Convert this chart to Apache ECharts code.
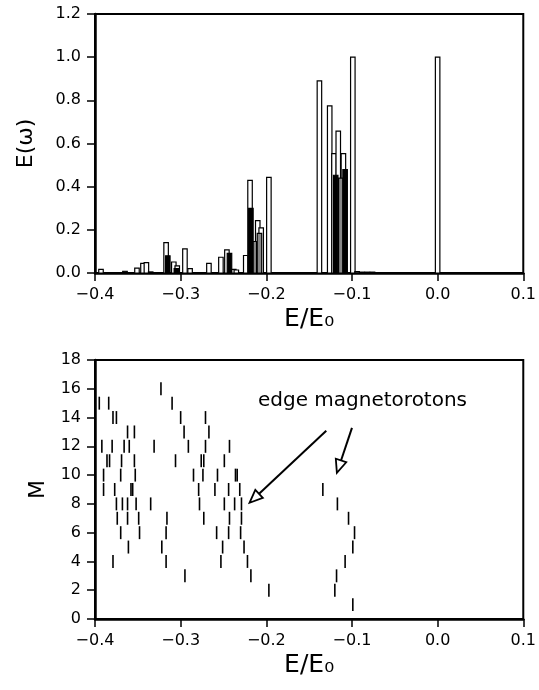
<!DOCTYPE html>
<html>
<head>
<meta charset="utf-8">
<script src="https://cdn.jsdelivr.net/npm/echarts@6/dist/echarts.min.js"></script>
<style>
  html, body { margin: 0; padding: 0; background: #fff; }
  #chart { width: 539px; height: 690px; }
</style>
</head>
<body>
<div id="chart"></div>
<script>
// top panel: spectral weight E(w) per mode (open, black and gray bars)
const openE = [-0.393, -0.351, -0.344, -0.340, -0.317, -0.308, -0.304, -0.295, -0.289, -0.267,
  -0.253, -0.246, -0.238, -0.235, -0.224, -0.219, -0.210, -0.206, -0.197,
  -0.138, -0.126, -0.121, -0.116, -0.110, -0.099, 0.000];
const openV = [0.017, 0.023, 0.045, 0.048, 0.141, 0.051, 0.033, 0.112, 0.020, 0.045,
  0.073, 0.107, 0.017, 0.014, 0.081, 0.429, 0.243, 0.209, 0.443,
  0.890, 0.774, 0.553, 0.657, 0.553, 1.000, 1.000];
const blackE = [-0.365, -0.315, -0.305, -0.243, -0.218, -0.119, -0.108];
const blackV = [0.008, 0.080, 0.020, 0.091, 0.299, 0.453, 0.479];
const grayE = [-0.335, -0.214, -0.208, -0.113, -0.094, -0.088, -0.082, -0.076];
const grayV = [0.005, 0.146, 0.184, 0.440, 0.006, 0.004, 0.004, 0.004];

// bottom panel: mode energy vs angular momentum M
const tickE = [
  -0.323,
  -0.395, -0.384, -0.310,
  -0.379, -0.375, -0.300, -0.271,
  -0.362, -0.354, -0.296, -0.267,
  -0.392, -0.380, -0.366, -0.360, -0.331, -0.291, -0.271, -0.243,
  -0.386, -0.383, -0.369, -0.354, -0.306, -0.276, -0.273, -0.249,
  -0.390, -0.370, -0.353, -0.285, -0.274, -0.257, -0.236, -0.234,
  -0.390, -0.377, -0.358, -0.356, -0.279, -0.260, -0.244, -0.231, -0.134,
  -0.375, -0.368, -0.362, -0.352, -0.335, -0.278, -0.249, -0.237, -0.229, -0.117,
  -0.374, -0.362, -0.349, -0.316, -0.273, -0.243, -0.229, -0.104,
  -0.370, -0.348, -0.317, -0.258, -0.244, -0.230, -0.097,
  -0.361, -0.322, -0.251, -0.226, -0.099,
  -0.379, -0.317, -0.253, -0.222, -0.108,
  -0.295, -0.218, -0.118,
  -0.197, -0.120,
  -0.099
];
const tickM = [
  16,
  15, 15, 15,
  14, 14, 14, 14,
  13, 13, 13, 13,
  12, 12, 12, 12, 12, 12, 12, 12,
  11, 11, 11, 11, 11, 11, 11, 11,
  10, 10, 10, 10, 10, 10, 10, 10,
  9, 9, 9, 9, 9, 9, 9, 9, 9,
  8, 8, 8, 8, 8, 8, 8, 8, 8, 8,
  7, 7, 7, 7, 7, 7, 7, 7,
  6, 6, 6, 6, 6, 6, 6,
  5, 5, 5, 5, 5,
  4, 4, 4, 4, 4,
  3, 3, 3,
  2, 2,
  1
];

// annotation arrows (data coords), start -> tip
const arrowFrom = [[-0.130, 13.08], [-0.100, 13.28]];
const arrowTo = [[-0.2195, 8.08], [-0.1176, 10.16]];

const eTicks = ['-0.4', '-0.3', '-0.2', '-0.1', '0.0', '0.1'];

const zip = (a, b) => a.map((v, i) => [v, b[i]]);
const fontFam = 'DejaVu Sans';

const chart = echarts.init(document.getElementById('chart'));

// bar drawn as rect from 0 to value
function barRender(fill) {
  return function (params, api) {
    const base = api.coord([api.value(0), 0]);
    const top = api.coord([api.value(0), api.value(1)]);
    const w = 4.5;
    return {
      type: 'rect',
      shape: { x: base[0] - w / 2, y: top[1], width: w, height: base[1] - top[1] },
      style: { fill: fill, stroke: '#000', lineWidth: 1.2 }
    };
  };
}

function tickRender(params, api) {
  const a = api.coord([api.value(0), api.value(1) - 0.45]);
  const b = api.coord([api.value(0), api.value(1) + 0.45]);
  return {
    type: 'line',
    shape: { x1: a[0], y1: a[1], x2: b[0], y2: b[1] },
    style: { stroke: '#000', lineWidth: 1.6 }
  };
}

function arrowRender(params, api) {
  const p0 = api.coord([api.value(0), api.value(1)]);
  const p1 = api.coord([api.value(2), api.value(3)]);
  const dx = p1[0] - p0[0], dy = p1[1] - p0[1];
  const len = Math.hypot(dx, dy);
  const ux = dx / len, uy = dy / len;
  const hl = 13, hw = 5.5;
  const bx = p1[0] - ux * hl, by = p1[1] - uy * hl;
  return {
    type: 'group',
    children: [
      { type: 'line', shape: { x1: p0[0], y1: p0[1], x2: bx, y2: by }, style: { stroke: '#000', lineWidth: 2 } },
      {
        type: 'polygon',
        shape: { points: [[p1[0], p1[1]], [bx - uy * hw, by + ux * hw], [bx + uy * hw, by - ux * hw]] },
        style: { fill: '#fff', stroke: '#000', lineWidth: 1.8 }
      }
    ]
  };
}

const fmtE = v => {
  const s = v.toFixed(1);
  return eTicks.indexOf(s) >= 0 ? s.replace('-', '\u2212') : '';
};

function xAxisCfg(gridIndex) {
  return {
    type: 'value', gridIndex: gridIndex,
    min: -0.4, max: 0.1, interval: 0.1,
    name: 'E/E\u2080', nameLocation: 'middle', nameGap: 34,
    nameTextStyle: { fontSize: 25, color: '#000', fontFamily: fontFam },
    axisLine: { onZero: false, lineStyle: { color: '#000', width: 2.5 } },
    axisTick: { length: 8, lineStyle: { color: '#000', width: 1.5 } },
    axisLabel: { margin: 14, fontSize: 16, color: '#000', fontFamily: fontFam, formatter: fmtE },
    splitLine: { show: false }
  };
}

function yAxisCfg(gridIndex, max, interval, name, gap, fmt) {
  return {
    type: 'value', gridIndex: gridIndex, min: 0, max: max, interval: interval,
    name: name, nameLocation: 'middle', nameGap: gap,
    nameTextStyle: { fontSize: 22, color: '#000', fontFamily: fontFam },
    axisLine: { show: true, onZero: false, lineStyle: { color: '#000', width: 2.5 } },
    axisTick: { length: 8, lineStyle: { color: '#000', width: 1.5 } },
    axisLabel: { margin: 14, fontSize: 16, color: '#000', fontFamily: fontFam, formatter: fmt },
    splitLine: { show: false }
  };
}

const option = {
  backgroundColor: '#fff',
  animation: false,
  grid: [
    { left: 95, right: 12, top: 14, bottom: 417, show: true, borderColor: '#000', borderWidth: 2 },
    { left: 95, right: 12, top: 360, bottom: 71, show: true, borderColor: '#000', borderWidth: 2 }
  ],
  xAxis: [xAxisCfg(0), xAxisCfg(1)],
  yAxis: [
    yAxisCfg(0, 1.2, 0.2, 'E(\u03c9)', 58, v => v.toFixed(1)),
    yAxisCfg(1, 18, 2, 'M', 45, v => String(v))
  ],
  graphic: [
    {
      type: 'text', left: 258, top: 391,
      style: { text: 'edge magnetorotons', fontSize: 20, fontFamily: fontFam, fill: '#000' }
    }
  ],
  series: [
    { type: 'custom', xAxisIndex: 0, yAxisIndex: 0, renderItem: barRender('#fff'), encode: { x: 0, y: 1 }, data: zip(openE, openV) },
    { type: 'custom', xAxisIndex: 0, yAxisIndex: 0, renderItem: barRender('#888'), encode: { x: 0, y: 1 }, data: zip(grayE, grayV) },
    { type: 'custom', xAxisIndex: 0, yAxisIndex: 0, renderItem: barRender('#000'), encode: { x: 0, y: 1 }, data: zip(blackE, blackV) },
    { type: 'custom', xAxisIndex: 1, yAxisIndex: 1, renderItem: tickRender, encode: { x: 0, y: 1 }, data: zip(tickE, tickM) },
    {
      type: 'custom', xAxisIndex: 1, yAxisIndex: 1, renderItem: arrowRender,
      encode: { x: [0, 2], y: [1, 3] },
      data: arrowFrom.map((p, i) => [p[0], p[1], arrowTo[i][0], arrowTo[i][1]])
    }
  ]
};

chart.setOption(option);
</script>
</body>
</html>
